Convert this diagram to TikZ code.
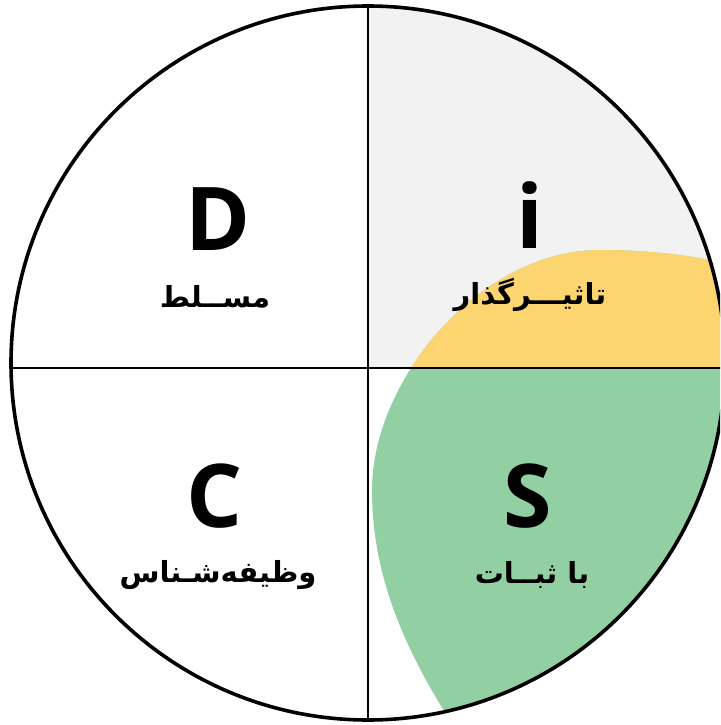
\documentclass[tikz,border=0pt]{standalone}
\usepackage{fontspec}
\newfontfamily\discfont{Open Sans}
\newfontfamily\arabicfont[Script=Arabic]{DejaVu Sans}
\TeXXeTstate=1
\definecolor{discgray}{RGB}{242,242,242}
\definecolor{discgold}{RGB}{253,213,112}
\definecolor{discgreen}{RGB}{146,208,163}
% outline of the gold / green area (cut later by circle and axes)
\newcommand\blobpath{(470,750) .. controls (400,650) and (372,570) .. (372,490)
  .. controls (372,380) and (480,250) .. (600,250)
  .. controls (660,250) and (720,258) .. (760,275) -- (760,760) -- cycle}

\begin{document}
\begin{tikzpicture}[
  x=1pt, y=-1pt,
  letter/.style={font=\discfont\bfseries\fontsize{88}{90}\selectfont,
                 inner sep=0pt, anchor=base},
  trait/.style={font=\arabicfont\bfseries\fontsize{29}{32}\selectfont,
                inner sep=0pt},
  rim/.style={line width=3.6pt},
  axis/.style={line width=2.4pt}
]
\useasboundingbox (0,0) rectangle (720,725);
\clip (0,0) rectangle (720,725);

\coordinate (o)  at (368,363);
\coordinate (up) at (368,6);
\coordinate (dn) at (368,720);
\coordinate (lt) at (11,368);
\coordinate (rt) at (730,368);

\begin{scope}
  \clip (o) circle[radius=357];
  \fill[discgray] (368,0) rectangle (740,368);
  \clip (368,0) rectangle (740,740);
  \fill[discgreen] \blobpath;
  \clip (368,0) rectangle (740,368);
  \fill[discgold] \blobpath;
\end{scope}

\draw[axis] (up) -- (dn);
\draw[axis] (lt) -- (rt);
\draw[rim] (o) circle[radius=357];

\node[letter] (dletter) at (218,250) {D};
\node[letter] (iletter) at (530,248) {i};
\node[letter] (cletter) at (215,527) {C};
\node[letter] (sletter) at (528,527) {S};

\node[trait] (dtrait) at (215,297) {\beginR مســلط\endR};
\node[trait] (itrait) at (530,295) {\beginR تاثیـــرگذار\endR};
\node[trait] (ctrait) at (218,575) {\beginR وظیفه‌شـناس\endR};
\node[trait] (strait) at (532,575) {\beginR با ثبــات\endR};
\end{tikzpicture}
\end{document}
